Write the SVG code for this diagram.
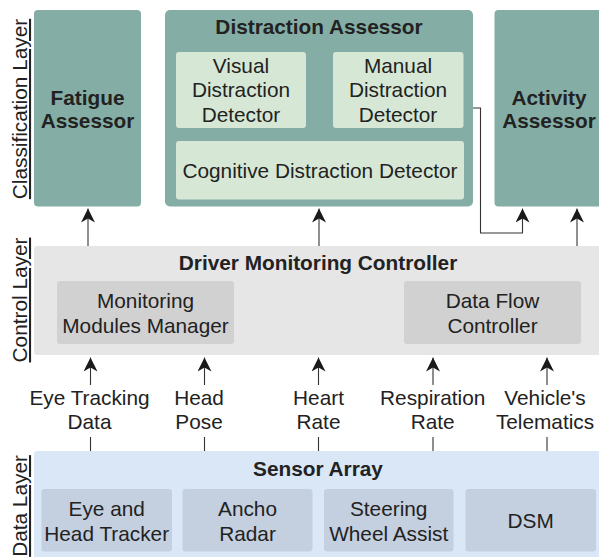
<svg xmlns="http://www.w3.org/2000/svg" width="599" height="557" viewBox="0 0 599 557">
<defs>
<style>
text{font-family:"Liberation Sans",Arial,sans-serif;font-size:20.8px;fill:#222;text-anchor:middle}
.b{font-weight:bold}
.teal{fill:#84aea5}
.green{fill:#d6e8d5}
.ctl{fill:#e6e6e6}
.ctlin{fill:#d1d1d1}
.data{fill:#dae7f7}
.datain{fill:#c4d0df}
.layer{text-decoration:underline}
.conn{fill:none;stroke:#333;stroke-width:1.1}
</style>
<marker id="arr" viewBox="0 0 14 14" markerWidth="14" markerHeight="14" refX="14" refY="7" orient="auto" markerUnits="userSpaceOnUse">
<path d="M14,7 L0,0 L4,7 L0,14 Z" fill="#1a1a1a"/>
</marker>
</defs>
<rect width="599" height="557" fill="#fff"/>

<g id="layer-labels">
<text class="layer" transform="translate(27,109) rotate(-90)">Classification Layer</text>
<text class="layer" transform="translate(27,300) rotate(-90)">Control Layer</text>
<text class="layer" transform="translate(27,506) rotate(-90)">Data Layer</text>
</g>

<g id="fatigue-assessor">
<rect class="teal" x="34" y="10" width="107" height="196.5" rx="4"/>
<text class="b" x="87.5" y="105">Fatigue</text>
<text class="b" x="87.5" y="128">Assessor</text>
</g>

<g id="distraction-assessor">
<rect class="teal" x="165" y="10" width="308" height="196.5" rx="5"/>
<text class="b" x="319" y="33.5">Distraction Assessor</text>
</g>
<g id="visual-distraction-detector">
<rect class="green" x="176" y="52" width="130" height="76" rx="3"/>
<text x="241" y="73">Visual</text>
<text x="241" y="97">Distraction</text>
<text x="241" y="121.5">Detector</text>
</g>
<g id="manual-distraction-detector">
<rect class="green" x="333" y="52" width="130.5" height="76" rx="3"/>
<text x="398" y="73">Manual</text>
<text x="398" y="97">Distraction</text>
<text x="398" y="121.5">Detector</text>
</g>
<g id="cognitive-distraction-detector">
<rect class="green" x="176" y="141" width="288" height="58.5" rx="3"/>
<text x="320" y="178">Cognitive Distraction Detector</text>
</g>

<g id="activity-assessor">
<rect class="teal" x="494.5" y="10" width="112" height="196.5" rx="4"/>
<text class="b" x="549" y="105">Activity</text>
<text class="b" x="549" y="128">Assessor</text>
</g>

<g id="driver-monitoring-controller">
<rect class="ctl" x="34" y="246" width="572" height="109" rx="3"/>
<text class="b" x="318" y="269.5">Driver Monitoring Controller</text>
</g>
<g id="monitoring-modules-manager">
<rect class="ctlin" x="57" y="281" width="177" height="63" rx="3"/>
<text x="145.5" y="308">Monitoring</text>
<text x="145.5" y="332.5">Modules Manager</text>
</g>
<g id="data-flow-controller">
<rect class="ctlin" x="404" y="281" width="177" height="63" rx="3"/>
<text x="492.5" y="308">Data Flow</text>
<text x="492.5" y="332.5">Controller</text>
</g>

<g id="sensor-array">
<rect class="data" x="34" y="451" width="572" height="112" rx="3"/>
<text class="b" x="318" y="476">Sensor Array</text>
</g>
<g id="eye-head-tracker">
<rect class="datain" x="41.5" y="489" width="130.5" height="62.5" rx="3"/>
<text x="106.7" y="516">Eye and</text>
<text x="106.7" y="541">Head Tracker</text>
</g>
<g id="ancho-radar">
<rect class="datain" x="182.5" y="489" width="130" height="62.5" rx="3"/>
<text x="247.5" y="516">Ancho</text>
<text x="247.5" y="541">Radar</text>
</g>
<g id="steering-wheel-assist">
<rect class="datain" x="324" y="489" width="129.5" height="62.5" rx="3"/>
<text x="388.7" y="516">Steering</text>
<text x="388.7" y="541">Wheel Assist</text>
</g>
<g id="dsm">
<rect class="datain" x="465.5" y="489" width="130.5" height="62.5" rx="3"/>
<text x="530.7" y="528.3">DSM</text>
</g>

<g id="connectors">
<path class="conn" d="M88,246 V208.5" marker-end="url(#arr)"/>
<path class="conn" d="M319,246 V208.5" marker-end="url(#arr)"/>
<path class="conn" d="M473,108 H480.5 V233 H522.5 V208.5" marker-end="url(#arr)"/>
<path class="conn" d="M577,246 V208.5" marker-end="url(#arr)"/>
<path class="conn" d="M90.5,451 V437 M90.5,385 V357.5" marker-end="url(#arr)"/>
<path class="conn" d="M204.5,451 V437 M204.5,385 V357.5" marker-end="url(#arr)"/>
<path class="conn" d="M318.5,451 V437 M318.5,385 V357.5" marker-end="url(#arr)"/>
<path class="conn" d="M433,451 V437 M433,385 V357.5" marker-end="url(#arr)"/>
<path class="conn" d="M547,451 V437 M547,385 V357.5" marker-end="url(#arr)"/>
</g>

<g id="edge-labels">
<text x="89.5" y="404.5">Eye Tracking</text>
<text x="89.5" y="428.5">Data</text>
<text x="199" y="404.5">Head</text>
<text x="199" y="428.5">Pose</text>
<text x="318.5" y="404.5">Heart</text>
<text x="318.5" y="428.5">Rate</text>
<text x="432.7" y="404.5">Respiration</text>
<text x="432.7" y="428.5">Rate</text>
<text x="545" y="404.5">Vehicle's</text>
<text x="545" y="428.5">Telematics</text>
</g>
</svg>
